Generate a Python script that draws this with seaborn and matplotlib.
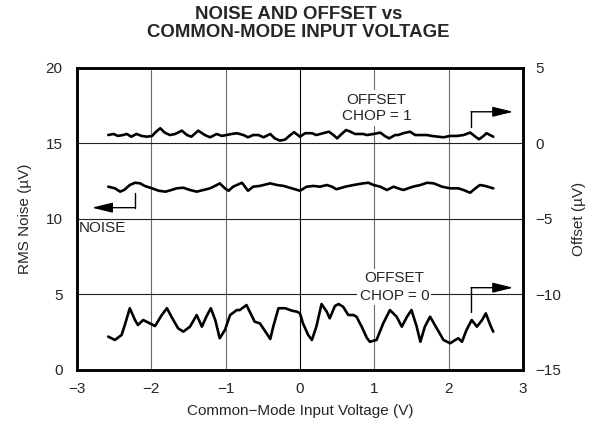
import numpy as np
import pandas as pd
import matplotlib
matplotlib.use("Agg")
import matplotlib.pyplot as plt
import seaborn as sns

# data
x_ticks = [-3, -2, -1, 0, 1, 2, 3]
noise_ticks = [0, 5, 10, 15, 20]
offset_ticks = [-15, -10, -5, 0, 5]

# RMS noise (uV), left axis
x_noise = [-2.58, -2.49, -2.42, -2.36, -2.29, -2.22, -2.15, -2.09, -1.99, -1.90,
           -1.81, -1.73, -1.66, -1.57, -1.48, -1.39, -1.30, -1.21, -1.12, -1.08,
           -1.01, -0.96, -0.90, -0.78, -0.70, -0.63, -0.54, -0.40, -0.31, -0.22,
           -0.11, 0.00, 0.09, 0.18, 0.27, 0.36, 0.43, 0.49, 0.61, 0.72,
           0.85, 0.92, 0.99, 1.08, 1.17, 1.26, 1.32, 1.39, 1.52, 1.62,
           1.71, 1.80, 1.91, 2.02, 2.13, 2.20, 2.29, 2.36, 2.42, 2.49, 2.60]
noise = [12.14, 12.03, 11.81, 11.94, 12.25, 12.40, 12.36, 12.19, 12.03, 11.87,
         11.81, 11.92, 12.03, 12.07, 11.92, 11.81, 11.92, 12.03, 12.25, 12.36,
         12.03, 11.87, 12.14, 12.40, 11.87, 12.14, 12.19, 12.36, 12.25, 12.19,
         12.03, 11.87, 12.14, 12.19, 12.14, 12.25, 12.14, 11.97, 12.14, 12.25,
         12.36, 12.40, 12.25, 12.14, 11.92, 12.14, 12.03, 11.92, 12.14, 12.25,
         12.40, 12.36, 12.14, 12.03, 12.03, 11.92, 11.74, 12.03, 12.25, 12.19, 12.03]

# offset (uV), CHOP = 1, right axis
x_chop1 = [-2.58, -2.51, -2.45, -2.38, -2.33, -2.27, -2.20, -2.13, -2.06, -1.99,
           -1.95, -1.88, -1.82, -1.75, -1.68, -1.59, -1.52, -1.46, -1.37, -1.28,
           -1.21, -1.12, -1.05, -0.99, -0.92, -0.85, -0.76, -0.70, -0.63, -0.56,
           -0.49, -0.40, -0.34, -0.27, -0.20, -0.13, -0.08, 0.00, 0.07, 0.16,
           0.22, 0.31, 0.39, 0.45, 0.50, 0.56, 0.62, 0.67, 0.74, 0.85,
           0.90, 0.99, 1.08, 1.14, 1.20, 1.28, 1.32, 1.39, 1.48, 1.55,
           1.71, 1.77, 1.93, 2.02, 2.11, 2.20, 2.29, 2.36, 2.41, 2.47, 2.51, 2.60]
offset_chop1 = [0.56, 0.63, 0.50, 0.56, 0.63, 0.45, 0.63, 0.50, 0.45, 0.50,
                0.72, 1.01, 0.72, 0.56, 0.63, 0.85, 0.56, 0.45, 0.85, 0.56,
                0.41, 0.63, 0.50, 0.56, 0.63, 0.68, 0.56, 0.41, 0.56, 0.56,
                0.41, 0.63, 0.34, 0.19, 0.26, 0.56, 0.75, 0.45, 0.68, 0.68,
                0.56, 0.68, 0.78, 0.56, 0.34, 0.63, 0.89, 0.80, 0.63, 0.63,
                0.56, 0.63, 0.72, 0.50, 0.34, 0.56, 0.56, 0.68, 0.78, 0.56,
                0.56, 0.50, 0.41, 0.50, 0.50, 0.56, 0.72, 0.45, 0.28, 0.50, 0.68, 0.45]

# offset (uV), CHOP = 0, right axis
x_chop0 = [-2.58, -2.49, -2.40, -2.35, -2.29, -2.22, -2.18, -2.11, -2.02, -1.95,
           -1.86, -1.79, -1.73, -1.64, -1.57, -1.48, -1.39, -1.32, -1.26, -1.20,
           -1.14, -1.08, -1.01, -0.94, -0.85, -0.81, -0.72, -0.61, -0.54, -0.45,
           -0.40, -0.36, -0.29, -0.20, -0.11, -0.04, 0.00, 0.04, 0.11, 0.16,
           0.22, 0.29, 0.36, 0.40, 0.47, 0.52, 0.58, 0.65, 0.72, 0.76,
           0.83, 0.90, 0.94, 1.03, 1.12, 1.21, 1.30, 1.37, 1.44, 1.50,
           1.57, 1.62, 1.68, 1.75, 1.84, 1.93, 2.02, 2.09, 2.13, 2.18,
           2.24, 2.31, 2.38, 2.45, 2.50, 2.56, 2.60]
offset_chop0 = [-12.79, -13.01, -12.68, -11.91, -10.91, -11.69, -12.02, -11.69, -11.91, -12.09,
                -11.36, -10.91, -11.47, -12.24, -12.46, -12.13, -11.36, -12.13, -11.47, -10.91,
                -11.69, -12.90, -12.35, -11.36, -11.03, -11.03, -10.70, -11.80, -11.91, -12.57,
                -12.95, -12.13, -10.91, -10.91, -11.07, -11.14, -11.25, -11.91, -12.68, -13.01,
                -12.13, -10.63, -11.14, -11.58, -10.76, -10.63, -10.81, -11.36, -11.36, -11.47,
                -12.13, -12.88, -13.13, -13.01, -11.91, -11.03, -11.47, -12.13, -11.47, -11.03,
                -12.13, -13.13, -12.13, -11.47, -12.24, -13.01, -13.23, -13.01, -12.90, -13.13,
                -12.35, -11.69, -12.13, -11.69, -11.25, -12.02, -12.46]

sns.set_style("white")
plt.rcParams['font.family'] = ['Liberation Sans', 'DejaVu Sans']
plt.rcParams['font.size'] = 11

fig = plt.figure(figsize=(5.97, 4.33), dpi=100)
ax = fig.add_axes([0.129, 0.1455, 0.747, 0.6975])

sns.lineplot(x=x_noise, y=noise, ax=ax, color="black", linewidth=1.9, sort=False)
ax.set_xlim(-3, 3)
ax.set_ylim(0, 20)
ax.set_xticks(x_ticks)
ax.set_yticks(noise_ticks)
ax.xaxis.grid(True, color="#6a6a6a", linewidth=0.8)
ax.yaxis.grid(True, color="#222222", linewidth=0.8)
ax.get_xgridlines()[x_ticks.index(0)].set_color("black")
ax.tick_params(length=0, labelsize=11)
ax.tick_params(axis="y", pad=10.5)
ax.tick_params(axis="x", pad=8.5)
ax.set_xlabel("Common\u2212Mode Input Voltage (V)", fontsize=11, labelpad=6)
ax.set_ylabel("RMS Noise (\u00b5V)", fontsize=11, labelpad=10)

ax2 = ax.twinx()
sns.lineplot(x=x_chop1, y=offset_chop1, ax=ax2, color="black", linewidth=1.9, sort=False)
sns.lineplot(x=x_chop0, y=offset_chop0, ax=ax2, color="black", linewidth=1.9, sort=False)
ax2.set_ylim(-15, 5)
ax2.set_yticks(offset_ticks)
ax2.tick_params(length=0, labelsize=11, pad=9)
ax2.set_ylabel("Offset (\u00b5V)", fontsize=11, labelpad=8)

for a in (ax, ax2):
    for s in a.spines.values():
        s.set_linewidth(1.8)
        s.set_color("black")

# labels with white boxes over the grid
box = dict(facecolor="white", edgecolor="none", pad=1.5)
ax2.text(1.03, 2.35, "OFFSET\nCHOP = 1", ha="center", va="center", fontsize=11,
         linespacing=1.25, bbox=box, zorder=5)
ax2.text(1.27, -9.5, "OFFSET\nCHOP = 0", ha="center", va="center", fontsize=11,
         linespacing=1.35, bbox=box, zorder=5)
ax.text(-2.66, 9.4, "NOISE", ha="center", va="center", fontsize=11)

arrow = dict(arrowstyle="-|>,head_length=0.9,head_width=0.22", color="black", lw=1.0,
             mutation_scale=14, shrinkA=0, shrinkB=0)
# offset chop=1 pointer
ax2.plot([2.30, 2.30], [1.1, 2.1], color="black", lw=1.0)
ax2.annotate("", xy=(2.87, 2.1), xytext=(2.30, 2.1), arrowprops=arrow)
# offset chop=0 pointer
ax2.plot([2.30, 2.30], [-11.15, -9.55], color="black", lw=1.0)
ax2.annotate("", xy=(2.87, -9.55), xytext=(2.30, -9.55), arrowprops=arrow)
# noise pointer
ax.plot([-2.22, -2.22], [11.7, 10.75], color="black", lw=1.0)
ax.annotate("", xy=(-2.80, 10.75), xytext=(-2.22, 10.75), arrowprops=arrow)

fig.suptitle("NOISE AND OFFSET vs\nCOMMON-MODE INPUT VOLTAGE", x=0.5, y=0.985,
             fontsize=13.4, fontweight="bold", linespacing=1.05)

fig.savefig("out.png", dpi=100)
